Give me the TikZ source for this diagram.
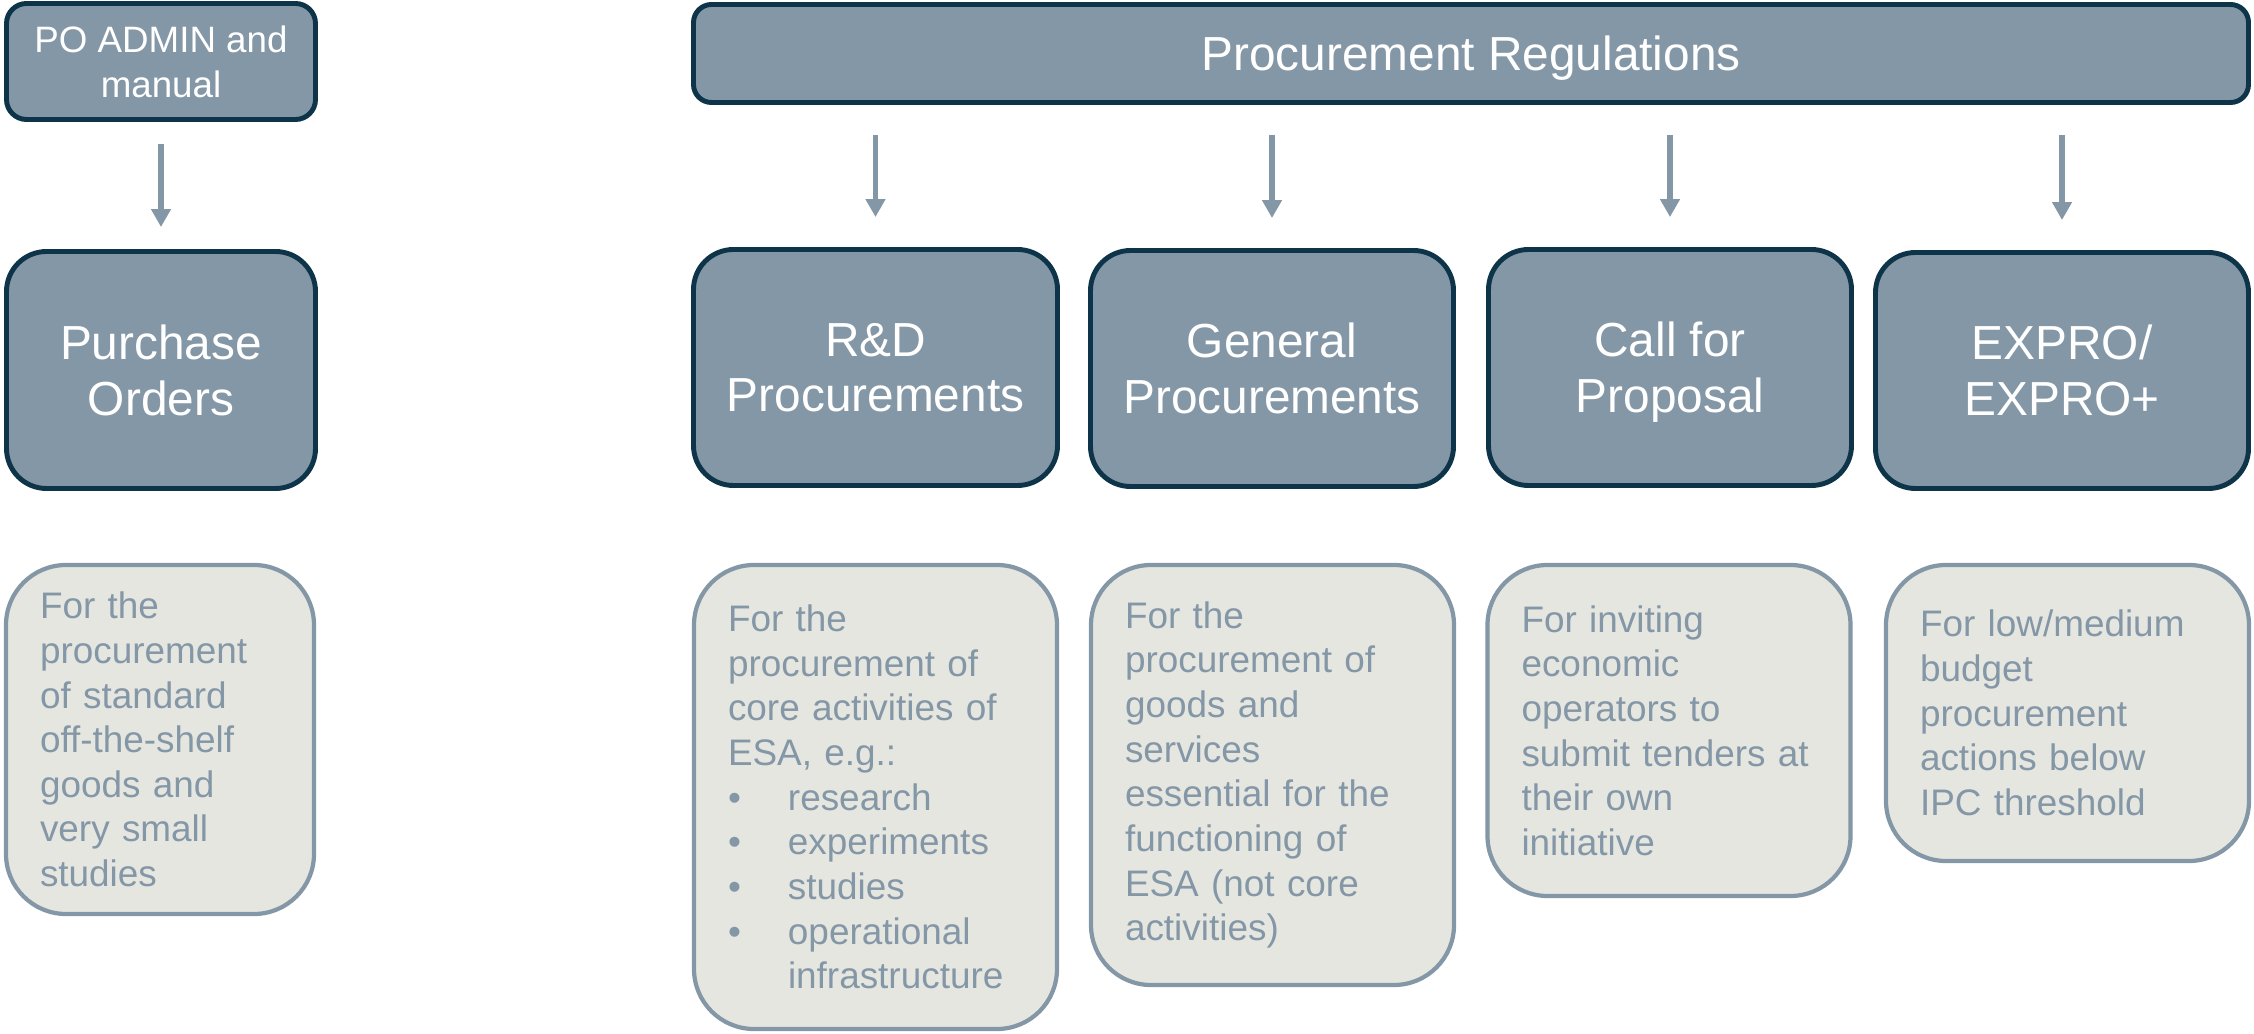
\documentclass[tikz,border=0pt]{standalone}
\usepackage{fontspec}
\setmainfont{Liberation Sans}
\usepackage{tikz}
\usetikzlibrary{positioning}
\usetikzlibrary{calc}
\usetikzlibrary{arrows.meta}

\definecolor{slate}{HTML}{8497A6}
\definecolor{navy}{HTML}{0E3449}
\definecolor{pale}{HTML}{E6E6E1}

\begin{document}
\begin{tikzpicture}[
			headnode/.style={rectangle, rounded corners=0.4cm, draw=navy, line width=1.4pt, fill=slate, text=white, align=center, inner sep=0pt, text depth=0pt, font=\fontsize{13.6}{15.9}\selectfont},
			kindnode/.style={headnode, minimum width=3.63cm, minimum height=2.36cm},
			infonode/.style={rectangle, rounded corners=0.6cm, draw=slate, line width=1.2pt, fill=pale, text=slate, align=left, inner xsep=0.34cm, inner ysep=0pt, text width=2.95cm, font=\fontsize{10.5}{12.7}\selectfont},
			flow/.style={-{Triangle[width=0.19cm, length=0.18cm]}, draw=slate, line width=1.7pt}
			]
			
			\useasboundingbox (0, 0) rectangle (22.54, -10.34);
			
			\node[headnode, rounded corners=0.2cm, minimum width=3.09cm, minimum height=1.16cm, font=\fontsize{10.45}{12.7}\selectfont] at (1.61, -0.615) (admin) {PO ADMIN and\\manual};
			\node[headnode, rounded corners=0.18cm, minimum width=15.55cm, minimum height=0.98cm] at (14.71, -0.535) (regs) {Procurement Regulations};
			
			\node[kindnode, minimum width=3.09cm, minimum height=2.37cm] at (1.61, -3.70) (po) {Purchase\\Orders};
			\node[kindnode, minimum width=3.64cm] at (8.755, -3.675) (rd) {R\&D\\Procurements};
			\node[kindnode] at (12.72, -3.685) (gen) {General\\Procurements};
			\node[kindnode] at (16.70, -3.675) (cfp) {Call for\\Proposal};
			\node[kindnode, minimum width=3.73cm] at (20.62, -3.705) (expro) {EXPRO/\\EXPRO+};
			
			\node[infonode, text width=2.40cm, minimum height=3.49cm] at (1.60, -7.395) (podesc) {For the\\procurement\\of standard\\off-the-shelf\\goods and\\very small\\studies};
			\node[infonode, minimum height=4.64cm] at (8.755, -7.97) (rddesc) {For the\\procurement of\\core activities of\\ESA, e.g.:\\\makebox[0.6cm][l]{\textbullet}research\\\makebox[0.6cm][l]{\textbullet}experiments\\\makebox[0.6cm][l]{\textbullet}studies\\\makebox[0.6cm][l]{\textbullet}operational\\\hspace*{0.6cm}infrastructure};
			\node[infonode, minimum height=4.20cm] at (12.725, -7.75) (gendesc) {For the\\procurement of\\goods and\\services\\essential for the\\functioning of\\ESA (not core\\activities)};
			\node[infonode, minimum height=3.31cm] at (16.69, -7.305) (cfpdesc) {For inviting\\economic\\operators to\\submit tenders at\\their own\\initiative};
			\node[infonode, minimum height=2.96cm] at (20.675, -7.13) (exprodesc) {For low/medium\\budget\\procurement\\actions below\\IPC threshold};
			
			\draw[flow, shorten <=0.22cm, shorten >=0.22cm] (admin.south) -- (po.north);
			\draw[flow, shorten <=0.3cm, shorten >=0.3cm] (regs.south -| rd.north) -- (rd.north);
			\draw[flow, shorten <=0.3cm, shorten >=0.3cm] (regs.south -| gen.north) -- (gen.north);
			\draw[flow, shorten <=0.3cm, shorten >=0.3cm] (regs.south -| cfp.north) -- (cfp.north);
			\draw[flow, shorten <=0.3cm, shorten >=0.3cm] (regs.south -| expro.north) -- (expro.north);
		\end{tikzpicture}
\end{document}
